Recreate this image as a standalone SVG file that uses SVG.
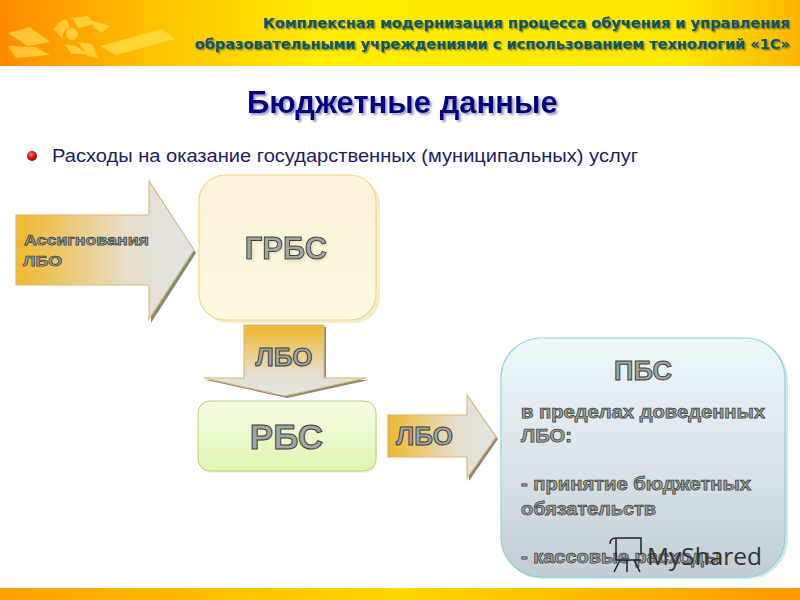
<svg xmlns="http://www.w3.org/2000/svg" width="800" height="600" viewBox="0 0 800 600">
<style>
.o{font-family:"Liberation Sans",Arial,sans-serif;font-weight:700;fill:#a2a6a3;stroke:#3c4140;stroke-width:1px}
.s{stroke-width:.75px}
.h{font-family:"DejaVu Sans",Verdana,sans-serif;font-weight:700;font-size:14.5px;fill:#11555f;stroke:#11555f;stroke-width:.25px}
.ar{stroke:#d9b878;stroke-width:1.1}
.sh{fill:#7d7258;opacity:.85}
</style>
<defs>
<linearGradient id="band" x1="0" x2="1" y1="0" y2="0"><stop offset="0" stop-color="#ff8a00"/><stop offset=".2" stop-color="#ffc400"/><stop offset=".4" stop-color="#ffec00"/><stop offset=".85" stop-color="#ffe800"/><stop offset="1" stop-color="#ffb400"/></linearGradient>
<linearGradient id="foot" x1="0" x2="1" y1="0" y2="0"><stop offset="0" stop-color="#ffa000"/><stop offset=".5" stop-color="#ffd800"/><stop offset="1" stop-color="#ff9800"/></linearGradient>
<linearGradient id="ah" x1="0" x2="1" y1="0" y2="0"><stop offset="0" stop-color="#efb92c"/><stop offset=".65" stop-color="#e6dfd0"/><stop offset="1" stop-color="#e4e4e4"/></linearGradient>
<linearGradient id="av" x1="0" x2="0" y1="0" y2="1"><stop offset="0" stop-color="#efb92c"/><stop offset=".7" stop-color="#e6dfd0"/><stop offset="1" stop-color="#e4e4e4"/></linearGradient>
<linearGradient id="g1" x1="0" x2="0" y1="0" y2="1"><stop offset="0" stop-color="#fbf3da"/><stop offset="1" stop-color="#fdf9e0"/></linearGradient>
<linearGradient id="g2" x1="0" x2="0" y1="0" y2="1"><stop offset="0" stop-color="#f6fde8"/><stop offset="1" stop-color="#def6b0"/></linearGradient>
<linearGradient id="g3" x1="0" x2="0" y1="0" y2="1"><stop offset="0" stop-color="#eef9fc"/><stop offset=".5" stop-color="#dbe5ea"/><stop offset="1" stop-color="#c0cdd4"/></linearGradient>
<radialGradient id="ball" cx=".4" cy=".35" r=".7"><stop offset="0" stop-color="#ff8080"/><stop offset=".5" stop-color="#e01010"/><stop offset="1" stop-color="#801010"/></radialGradient>
<filter id="ts" x="-5%" y="-30%" width="110%" height="170%"><feDropShadow dx="2" dy="2" stdDeviation="1.3" flood-color="#8080b0" flood-opacity=".8"/></filter>
<filter id="hs" x="-5%" y="-30%" width="110%" height="170%"><feDropShadow dx="1.5" dy="1.5" stdDeviation=".6" flood-color="#7a7a20" flood-opacity=".7"/></filter>
<filter id="os" x="-10%" y="-30%" width="125%" height="170%"><feDropShadow dx="2" dy="2" stdDeviation="1.2" flood-color="#e8e0c0" flood-opacity=".9"/></filter>
</defs>

<g id="header">
<rect width="800" height="66" fill="url(#band)"/>
<g fill="#ffe65a" opacity=".6">
<path d="M8 33 L30 27 L50 42 L28 46Z"/><path d="M8 46 L36 47 L50 55 L16 58Z"/>
<circle cx="72" cy="34" r="6"/><path d="M54 30 Q57 22 66 19 L70 27 Q64 29 62 38Z"/><path d="M72 18 L88 16 L94 24 L78 28Z"/><path d="M90 20 L110 26 L102 32 L94 28Z"/>
<path d="M64 44 L76 46 L88 54 L72 54Z"/><path d="M78 42 L92 44 L98 58 L88 56Z"/>
<path d="M100 46 L162 29 L175 39 L116 55Z"/>
</g>
<text class="h" filter="url(#hs)" x="263" y="28" textLength="527" lengthAdjust="spacingAndGlyphs">Комплексная модернизация процесса обучения и управления</text>
<text class="h" filter="url(#hs)" x="195" y="49" textLength="595" lengthAdjust="spacingAndGlyphs">образовательными учреждениями с использованием технологий «1С»</text>
</g>
<rect id="footer" y="588" width="800" height="12" fill="url(#foot)"/>

<g id="title">
<text filter="url(#ts)" x="247" y="113" font-family="Liberation Sans, Arial, sans-serif" font-weight="700" font-size="31" fill="#000080">Бюджетные данные</text>
</g>
<g id="bullet">
<circle cx="32" cy="156" r="5" fill="url(#ball)"/>
<text x="52" y="162" font-family="Liberation Sans, Arial, sans-serif" font-size="17.500" textLength="586" lengthAdjust="spacingAndGlyphs" fill="#1c1c66">Расходы на оказание государственных (муниципальных) услуг</text>
</g>

<g id="connectors">
<g id="arrow-assign">
<path class="sh" d="M18 288 H151 V323 L196 253 L151 184 V288Z"/>
<path class="ar" fill="url(#ah)" d="M16 215 H149 V181 L194 250 L149 319 V285 H16Z"/>
<text class="o s" x="24" y="245" font-size="15.5" textLength="125" lengthAdjust="spacingAndGlyphs">Ассигнования</text>
<text class="o s" x="23" y="266" font-size="15.5" textLength="39" lengthAdjust="spacingAndGlyphs">ЛБО</text>
</g>
<g id="arrow-down">
<path class="sh" d="M246 327 H326 V380 H369 L287 398 L206 380 H246Z"/>
<path class="ar" fill="url(#av)" d="M244 325 H324 V378 H366 L285 396 L204 378 H244Z"/>
<text class="o" x="284" y="366" text-anchor="middle" font-size="26">ЛБО</text>
</g>
<g id="arrow-right">
<path class="sh" d="M390 460 H469 V481 L498 439 L469 398 V460Z"/>
<path class="ar" fill="url(#ah)" d="M388 415 H467 V395 L496 437 L467 478 V457 H388Z"/>
<text class="o" x="424.500" y="445" text-anchor="middle" font-size="26">ЛБО</text>
</g>
</g>

<g id="node-grbs">
<rect x="202" y="178" width="178" height="145" rx="26" fill="#eee4c0" opacity=".7"/>
<rect x="199" y="175" width="177" height="145" rx="26" fill="url(#g1)" stroke="#f5d77a" stroke-width="1.2"/>
<text class="o" filter="url(#os)" x="286" y="259" text-anchor="middle" font-size="31">ГРБС</text>
</g>
<g id="node-rbs">
<rect x="199" y="403" width="178" height="70" rx="12" fill="#e8f6c0" opacity=".7"/>
<rect x="198" y="401" width="178" height="70" rx="12" fill="url(#g2)" stroke="#b8d078" stroke-width="1"/>
<text class="o" x="286.500" y="449" text-anchor="middle" font-size="35">РБС</text>
</g>
<g id="node-pbs">
<rect x="503" y="340" width="285" height="239" rx="40" fill="#bcd0d8" opacity=".6"/>
<rect x="501" y="338" width="284" height="239" rx="40" fill="url(#g3)" stroke="#8fd0d8" stroke-width="1.2"/>
<text class="o" x="643" y="380" text-anchor="middle" font-size="27">ПБС</text>
<text class="o s" x="521" y="418" font-size="18" textLength="244" lengthAdjust="spacingAndGlyphs">в пределах доведенных</text>
<text class="o s" x="521" y="442" font-size="18" textLength="51" lengthAdjust="spacingAndGlyphs">ЛБО:</text>
<text class="o s" x="521" y="490" font-size="18" textLength="230" lengthAdjust="spacingAndGlyphs">- принятие бюджетных</text>
<text class="o s" x="521" y="515" font-size="18" textLength="135" lengthAdjust="spacingAndGlyphs">обязательств</text>
<text class="o s" x="521" y="563" font-size="18" textLength="200" lengthAdjust="spacingAndGlyphs">- кассовые расходы</text>
</g>

<g id="watermark" fill="none" stroke="#222" stroke-width="1.5">
<path d="M610 544 Q610 538 616 538 H641 V554 M616 538 V560 H641 M620 560 L614 572 M627 560 V572 M634 560 L640 572"/>
<text x="647" y="565" font-family="Open Sans, sans-serif" font-size="24" textLength="115" lengthAdjust="spacingAndGlyphs" fill="#333" stroke="none">MyShared</text>
</g>
</svg>
